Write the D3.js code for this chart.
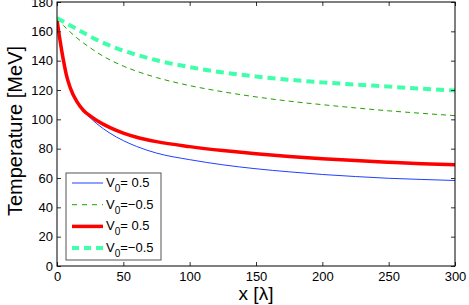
<!DOCTYPE html>
<html>
<head>
  <meta charset="utf-8">
  <script src="https://cdnjs.cloudflare.com/ajax/libs/d3/7.8.5/d3.min.js"></script>
  <style>
    body { margin: 0; background: #fff; }
    text { font-family: "Liberation Sans", Arial, sans-serif; }
  </style>
</head>
<body>
<div id="chart"></div>
<script>

  // distance in lambda
  var xs = [0, 1, 2, 3.5, 5, 7, 10, 15, 20, 25, 30, 40, 50, 60, 75, 100, 125, 150, 175, 200, 225, 250, 275, 300];

  var blueThin = [168, 161.5, 155.5, 147, 139.5, 130.5, 121.5, 112, 105.5, 101, 97, 90.5, 85.5, 81.5, 77, 72.5, 69, 66.3, 64.2, 62.4, 61, 59.8, 59, 58.3];
  var greenDash = [169, 168, 167, 165.5, 164, 162, 159.5, 155.5, 152, 148.8, 145.7, 140.5, 136.3, 132.8, 128.5, 123, 118.8, 115.3, 112.4, 110, 107.8, 105.8, 104.1, 102.5];
  var redThick = [168, 161.5, 155.5, 147, 139.5, 130.5, 121.5, 112, 106, 102.3, 99.2, 94.3, 90.6, 87.8, 84.8, 81.4, 78.7, 76.5, 74.7, 73.2, 71.9, 70.8, 69.8, 69];
  var cyanDash = [169, 168.5, 168, 167.3, 166.5, 165.5, 164, 161.5, 159, 156.5, 154.2, 150.2, 146.8, 144, 140.3, 135.6, 132, 129.2, 127, 125.2, 123.7, 122.3, 120.9, 119.6];

  var xTicks = [0, 50, 100, 150, 200, 250, 300];
  var yTicks = [0, 20, 40, 60, 80, 100, 120, 140, 160, 180];

  var legendLabels = ['= 0.5', '=\u22120.5', '= 0.5', '=\u22120.5'];

  var series = [
    {vals: blueThin, color: '#2040ff', width: 1, dash: null},
    {vals: greenDash, color: '#22a000', width: 1, dash: '5,4'},
    {vals: redThick, color: '#ff0000', width: 3.5, dash: null},
    {vals: cyanDash, color: '#40ffaa', width: 4, dash: '8,5'}
  ];

  var W = 469, H = 305;
  var pLeft = 57, pRight = 455, pTop = 2, pBottom = 266;

  var svg = d3.select('#chart').append('svg')
    .attr('width', W)
    .attr('height', H);

  var x = d3.scaleLinear().domain([0, 300]).range([pLeft, pRight]);
  var y = d3.scaleLinear().domain([0, 180]).range([pBottom, pTop]);

  svg.append('clipPath').attr('id', 'plotclip')
    .append('rect')
    .attr('x', pLeft).attr('y', pTop)
    .attr('width', pRight - pLeft).attr('height', pBottom - pTop);

  var line = d3.line()
    .x(function(d, i){ return x(xs[i]); })
    .y(function(d){ return y(d); })
    .curve(d3.curveMonotoneX);

  var g = svg.append('g').attr('clip-path', 'url(#plotclip)');
  series.forEach(function(s){
    g.append('path')
      .attr('d', line(s.vals))
      .attr('fill', 'none')
      .attr('stroke', s.color)
      .attr('stroke-width', s.width)
      .attr('stroke-dasharray', s.dash);
  });

  // axes, ticks inward on all sides
  var axisB = d3.axisBottom(x).tickValues(xTicks).tickSize(-4).tickPadding(6);
  var axisL = d3.axisLeft(y).tickValues(yTicks).tickSize(-4).tickPadding(4);
  var axisT = d3.axisTop(x).tickValues(xTicks).tickSize(-4).tickFormat('');
  var axisR = d3.axisRight(y).tickValues(yTicks).tickSize(-4).tickFormat('');

  function style(sel) {
    sel.select('.domain').remove();
    sel.selectAll('line').attr('stroke', '#333');
    sel.selectAll('text').attr('font-size', 13).attr('fill', '#000');
  }

  svg.append('g').attr('transform', 'translate(0,' + pBottom + ')').call(axisB).call(style);
  svg.append('g').attr('transform', 'translate(' + pLeft + ',0)').call(axisL).call(style);
  svg.append('g').attr('transform', 'translate(0,' + pTop + ')').call(axisT).call(style);
  svg.append('g').attr('transform', 'translate(' + pRight + ',0)').call(axisR).call(style);

  svg.append('rect')
    .attr('x', pLeft).attr('y', pTop)
    .attr('width', pRight - pLeft).attr('height', pBottom - pTop)
    .attr('fill', 'none').attr('stroke', '#000').attr('stroke-width', 1);

  // axis labels
  svg.append('text')
    .attr('x', 256).attr('y', 300)
    .attr('text-anchor', 'middle')
    .attr('font-size', 19)
    .text('x [\u03bb]');

  svg.append('text')
    .attr('transform', 'translate(22,131) rotate(-90)')
    .attr('text-anchor', 'middle')
    .attr('font-size', 20)
    .text('Temperature [MeV]');

  // legend
  var lg = svg.append('g');
  lg.append('rect')
    .attr('x', 66).attr('y', 173)
    .attr('width', 95).attr('height', 87)
    .attr('fill', '#fff').attr('stroke', '#555').attr('stroke-width', 1);

  series.forEach(function(s, i){
    var ly = 183 + i * 21.7;
    lg.append('line')
      .attr('x1', 72).attr('x2', 103)
      .attr('y1', ly).attr('y2', ly)
      .attr('stroke', s.color)
      .attr('stroke-width', s.width)
      .attr('stroke-dasharray', s.dash ? (s.width > 2 ? '7,5' : '5,5') : null);
    var t = lg.append('text')
      .attr('x', 106).attr('y', ly + 4)
      .attr('font-size', 13);
    t.append('tspan').text('V');
    t.append('tspan').attr('font-size', 10).attr('dy', 5).text('0');
    t.append('tspan').attr('dy', -5).text(legendLabels[i]);
  });

</script>
</body>
</html>
